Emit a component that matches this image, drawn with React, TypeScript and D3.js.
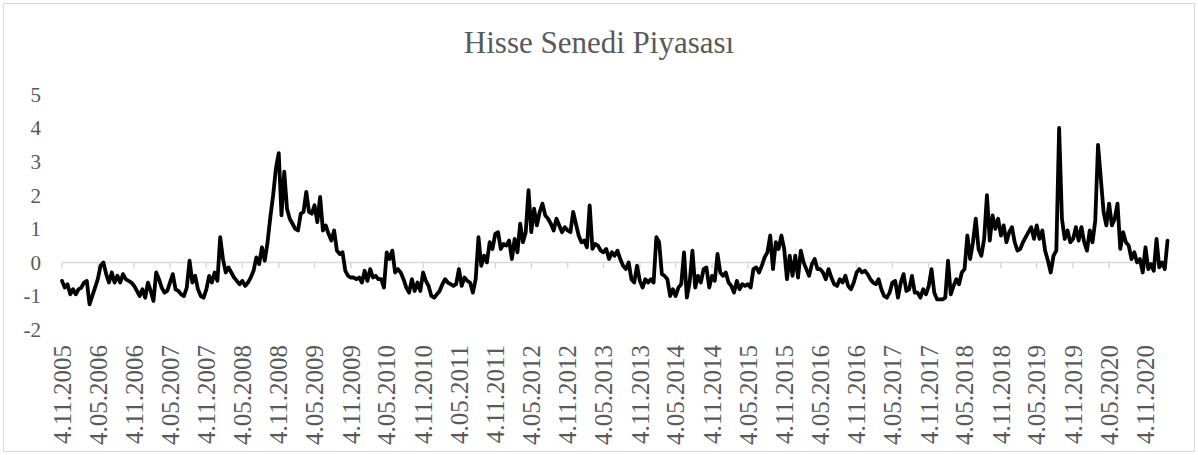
import React from 'react';
import * as d3 from 'd3';

const chartTitle = 'Hisse Senedi Piyasası';

const tickLabels = [
  '4.11.2005', '4.05.2006', '4.11.2006', '4.05.2007', '4.11.2007', '4.05.2008',
  '4.11.2008', '4.05.2009', '4.11.2009', '4.05.2010', '4.11.2010', '4.05.2011',
  '4.11.2011', '4.05.2012', '4.11.2012', '4.05.2013', '4.11.2013', '4.05.2014',
  '4.11.2014', '4.05.2015', '4.11.2015', '4.05.2016', '4.11.2016', '4.05.2017',
  '4.11.2017', '4.05.2018', '4.11.2018', '4.05.2019', '4.11.2019', '4.05.2020',
  '4.11.2020',
];

const yTicks = [-2, -1, 0, 1, 2, 3, 4, 5];

// Values, half-year by half-year (two-week steps)
const s2005_11 = [-0.55, -0.75, -0.65, -0.95, -0.8, -0.95, -0.8, -0.75, -0.6, -0.55, -1.25, -1.0, -0.75];
const s2006_05 = [-0.5, -0.1, 0.0, -0.35, -0.6, -0.3, -0.6, -0.4, -0.6, -0.35, -0.5, -0.55, -0.6];
const s2006_11 = [-0.7, -0.85, -1.0, -0.8, -1.05, -0.6, -0.85, -1.15, -0.3, -0.5, -0.75, -0.9, -0.85];
const s2007_05 = [-0.6, -0.35, -0.8, -0.85, -0.95, -1.0, -0.75, 0.05, -0.6, -0.4, -0.8, -1.0, -1.05];
const s2007_11 = [-0.8, -0.4, -0.6, -0.3, -0.55, 0.75, 0.1, -0.3, -0.15, -0.3, -0.45, -0.55, -0.65];
const s2008_05 = [-0.55, -0.7, -0.6, -0.45, -0.25, 0.15, -0.05, 0.45, 0.05, 0.6, 1.35, 2.0, 2.8];
const s2008_11 = [3.25, 1.4, 2.7, 1.6, 1.3, 1.15, 1.0, 0.95, 1.45, 1.5, 2.1, 1.5, 1.45];
const s2009_05 = [1.7, 1.2, 1.95, 0.95, 1.1, 0.85, 0.65, 0.95, 0.35, 0.25, 0.3, -0.25, -0.4];
const s2009_11 = [-0.45, -0.45, -0.5, -0.45, -0.6, -0.25, -0.55, -0.2, -0.45, -0.4, -0.5, -0.5, -0.75];
const s2010_05 = [0.3, 0.1, 0.35, -0.3, -0.2, -0.3, -0.5, -0.75, -0.9, -0.5, -0.85, -0.6, -0.85];
const s2010_11 = [-0.3, -0.55, -0.7, -1.0, -1.05, -0.95, -0.85, -0.65, -0.5, -0.6, -0.65, -0.7, -0.65];
const s2011_05 = [-0.2, -0.7, -0.45, -0.55, -0.6, -0.9, -0.5, 0.75, -0.1, 0.2, 0.0, 0.6, 0.4];
const s2011_11 = [0.85, 0.9, 0.4, 0.55, 0.5, 0.65, 0.1, 0.7, 0.3, 1.15, 0.6, 0.9, 2.15];
const s2012_05 = [0.9, 1.6, 1.1, 1.5, 1.75, 1.4, 1.3, 1.15, 0.95, 1.3, 1.1, 0.9, 1.05];
const s2012_11 = [0.95, 0.9, 1.5, 1.15, 0.8, 0.6, 0.65, 0.45, 1.7, 0.4, 0.55, 0.5, 0.35];
const s2013_05 = [0.3, 0.4, 0.1, 0.3, 0.2, 0.35, 0.1, -0.1, -0.2, 0.0, -0.5, -0.6, -0.1];
const s2013_11 = [-0.55, -0.75, -0.5, -0.6, -0.5, -0.6, 0.75, 0.6, -0.35, -0.4, -0.5, -1.0, -0.8];
const s2014_05 = [-1.0, -0.75, -0.65, 0.3, -1.05, -0.6, 0.35, -0.75, -0.4, -0.6, -0.2, -0.15, -0.75];
const s2014_11 = [-0.4, -0.55, 0.25, -0.3, -0.4, -0.3, -0.6, -0.7, -0.9, -0.55, -0.8, -0.65, -0.7];
const s2015_05 = [-0.65, -0.75, -0.2, -0.15, -0.3, -0.1, 0.15, 0.3, 0.8, -0.2, 0.6, 0.4, 0.8];
const s2015_11 = [0.4, -0.5, 0.2, -0.4, 0.2, -0.45, 0.35, 0.0, -0.2, -0.4, -0.05, 0.1, -0.2];
const s2016_05 = [-0.2, -0.3, -0.5, -0.2, -0.45, -0.65, -0.7, -0.5, -0.6, -0.4, -0.7, -0.8, -0.6];
const s2016_11 = [-0.3, -0.2, -0.3, -0.25, -0.35, -0.5, -0.6, -0.65, -0.5, -0.8, -1.0, -1.05, -0.9];
const s2017_05 = [-0.6, -0.55, -1.05, -0.6, -0.35, -0.85, -0.8, -0.4, -0.9, -0.9, -1.05, -0.8, -0.95];
const s2017_11 = [-0.7, -0.2, -0.9, -1.1, -1.1, -1.1, -1.05, 0.05, -0.95, -0.7, -0.5, -0.65, -0.3];
const s2018_05 = [-0.2, 0.8, 0.1, 0.6, 1.3, 0.4, 0.2, 0.7, 2.0, 0.65, 1.4, 1.0, 1.3];
const s2018_11 = [0.8, 1.1, 0.6, 0.9, 1.05, 0.6, 0.35, 0.4, 0.6, 0.75, 0.9, 1.05, 0.7];
const s2019_05 = [1.1, 0.7, 0.95, 0.35, 0.05, -0.3, 0.2, 0.35, 4.0, 1.3, 0.7, 0.95, 0.6];
const s2019_11 = [0.7, 1.05, 0.65, 1.05, 0.6, 0.35, 0.95, 0.6, 1.25, 3.5, 2.5, 1.5, 1.1];
const s2020_05 = [1.75, 1.1, 1.3, 1.75, 0.4, 0.9, 0.6, 0.5, 0.1, 0.3, 0.0, 0.1, -0.3];
const s2020_11 = [0.45, -0.2, -0.05, -0.25, 0.7, -0.15, 0.0, -0.2, 0.65];

const halfYears = [
  s2005_11, s2006_05, s2006_11, s2007_05, s2007_11, s2008_05, s2008_11, s2009_05,
  s2009_11, s2010_05, s2010_11, s2011_05, s2011_11, s2012_05, s2012_11, s2013_05,
  s2013_11, s2014_05, s2014_11, s2015_05, s2015_11, s2016_05, s2016_11, s2017_05,
  s2017_11, s2018_05, s2018_11, s2019_05, s2019_11, s2020_05, s2020_11,
];
const stepsPerHalfYear = 13;

type Pt = { d: Date; v: number };

export default function App() {
  const W = 1198;
  const H = 455;
  const parse = d3.timeParse('%d.%m.%Y');
  const tickDates = tickLabels.map((s) => parse(s) as Date);

  const x = d3
    .scaleTime()
    .domain([tickDates[0], tickDates[tickDates.length - 1]])
    .range([62, 1145.5]);
  const y = d3.scaleLinear().domain([-2, 5]).range([329.6, 94.4]);

  const pts: Pt[] = [];
  halfYears.forEach((vals, i) => {
    const s = tickDates[i];
    const e = d3.timeMonth.offset(s, 6);
    vals.forEach((v, j) => {
      pts.push({ d: new Date(+s + (j / stepsPerHalfYear) * (+e - +s)), v });
    });
  });

  const line = d3
    .line<Pt>()
    .x((p) => x(p.d))
    .y((p) => y(p.v));

  const axisStart = x(tickDates[0]);
  const axisEnd = x(pts[pts.length - 1].d) + 1;
  const labelColor = '#595959';
  const font = '"Liberation Serif", "Times New Roman", serif';

  return (
    <svg
      width={W}
      height={H}
      style={{ position: 'absolute', left: 0, top: 0, background: '#fff' }}
      fontFamily={font}
    >
      <rect x={0} y={0} width={W} height={H} fill="#fff" />
      <rect x={3.5} y={3.5} width={W - 7} height={H - 7} fill="none" stroke="#d9d9d9" strokeWidth={1} />
      <text x={W / 2} y={53} textAnchor="middle" fontSize={31} fill={labelColor}>
        {chartTitle}
      </text>
      {yTicks.map((t) => (
        <text key={t} x={41} y={y(t)} dy="0.35em" textAnchor="end" fontSize={21} fill={labelColor}>
          {t}
        </text>
      ))}
      <line x1={axisStart} x2={axisEnd} y1={y(0)} y2={y(0)} stroke="#d9d9d9" strokeWidth={1.5} />
      {tickDates.map((d, i) => (
        <line key={i} x1={x(d)} x2={x(d)} y1={y(0)} y2={y(0) + 6} stroke="#d9d9d9" strokeWidth={1.5} />
      ))}
      {tickDates.map((d, i) => (
        <text
          key={i}
          transform={`translate(${x(d)},345) rotate(-90)`}
          dy="0.35em"
          textAnchor="end"
          fontSize={25}
          fill={labelColor}
        >
          {tickLabels[i]}
        </text>
      ))}
      <path
        d={line(pts) || ''}
        fill="none"
        stroke="#000"
        strokeWidth={3.8}
        strokeLinejoin="round"
        strokeLinecap="round"
      />
    </svg>
  );
}
